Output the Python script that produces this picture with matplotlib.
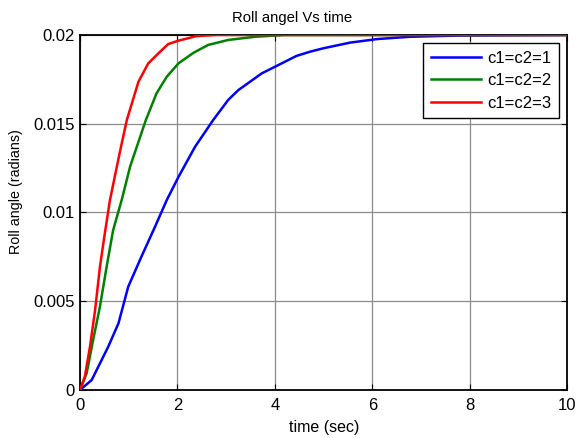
import matplotlib
matplotlib.use('Agg')
import matplotlib.pyplot as plt

plt.rcParams['font.family'] = ['Liberation Sans', 'DejaVu Sans']

# roll angle responses read per gain setting (time in s, angle in rad)
t_c1 = [0, 0.24, 0.58, 0.79, 0.99, 1.26, 1.54, 1.78, 2.02, 2.36, 2.73, 3.04,
        3.25, 3.49, 3.73, 3.97, 4.44, 4.72, 4.99, 5.54, 6.09, 6.77, 7.8, 10]
y_c1 = [0, 0.00056, 0.00244, 0.00376, 0.00582, 0.00751, 0.0092, 0.0107,
        0.0120, 0.0137, 0.0152, 0.01634, 0.0169, 0.01737, 0.01784, 0.01817,
        0.01882, 0.01906, 0.01925, 0.01957, 0.01977, 0.0199, 0.01997, 0.0200]

t_c2 = [0, 0.137, 0.27, 0.41, 0.547, 0.68, 0.855, 1.03, 1.35, 1.57, 1.78,
        2.02, 2.33, 2.63, 3.04, 3.59, 4.2, 10]
y_c2 = [0, 0.00094, 0.00282, 0.0047, 0.00695, 0.009, 0.0107, 0.0126, 0.0152,
        0.01671, 0.01765, 0.0184, 0.019, 0.01944, 0.01972, 0.0199, 0.0200,
        0.0200]

t_c3 = [0, 0.10, 0.205, 0.31, 0.41, 0.51, 0.615, 0.81, 0.96, 1.20, 1.40,
        1.61, 1.81, 2.02, 2.39, 2.8, 10]
y_c3 = [0, 0.00075, 0.00244, 0.0045, 0.00695, 0.00883, 0.0107, 0.0133,
        0.0152, 0.01737, 0.0184, 0.01897, 0.01949, 0.01968, 0.01994, 0.0200,
        0.0200]

labels = ['c1=c2=1', 'c1=c2=2', 'c1=c2=3']
colors = ['#0000ff', '#008000', '#ff0000']

x_ticks = [0, 2, 4, 6, 8, 10]
y_ticks = [0, 0.005, 0.01, 0.015, 0.02]
y_ticklabels = ['0', '0.005', '0.01', '0.015', '0.02']

fig = plt.figure(figsize=(5.77, 4.38), dpi=100)
ax = fig.add_axes([0.1386, 0.1096, 0.8449, 0.8105])

for t, y, lab, col in zip([t_c1, t_c2, t_c3], [y_c1, y_c2, y_c3], labels, colors):
    ax.plot(t, y, color=col, lw=1.8, label=lab, zorder=3)

ax.set_xlim(0, 10)
ax.set_ylim(0, 0.02)
ax.set_xticks(x_ticks)
ax.set_yticks(y_ticks)
ax.set_yticklabels(y_ticklabels)
ax.grid(True, color='#8c8c8c', lw=0.9)
ax.set_axisbelow(True)
ax.tick_params(direction='in', top=True, right=True, length=4, width=0.8,
               labelsize=12, colors='black')
ax.tick_params(axis='y', pad=4)
ax.tick_params(axis='x', pad=6)
for sp in ax.spines.values():
    sp.set_linewidth(1.3)

ax.set_title('Roll angel Vs time', fontsize=10.7, x=0.436, pad=9)
ax.set_xlabel('time (sec)', fontsize=11.5, labelpad=5)
ax.set_ylabel('Roll angle (radians)', fontsize=10.3)
ax.yaxis.set_label_coords(-0.117, 0.559)

leg = ax.legend(loc='upper right', fontsize=12, fancybox=False, framealpha=1,
                edgecolor='black', borderaxespad=0.5, handlelength=3.0,
                handletextpad=0.4, labelspacing=0.45, borderpad=0.45)
leg.get_frame().set_linewidth(1.0)

fig.savefig('out.png', dpi=100)
